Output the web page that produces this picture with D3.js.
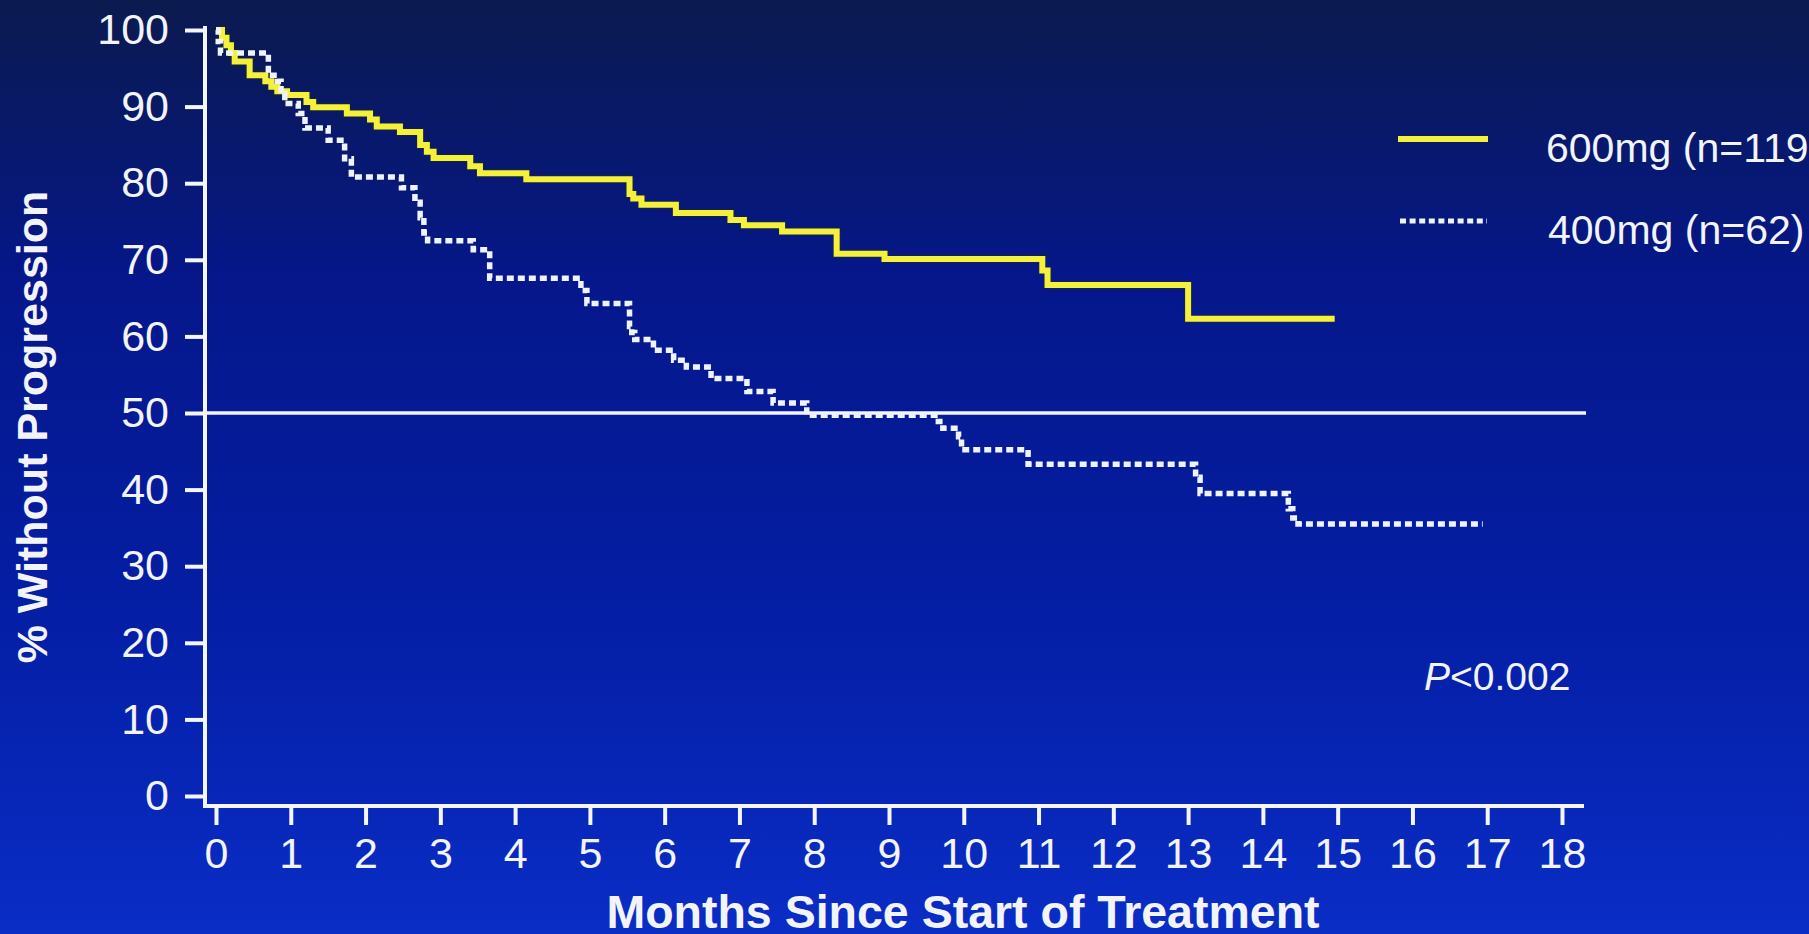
<!DOCTYPE html>
<html>
<head>
<meta charset="utf-8">
<script src="https://cdn.jsdelivr.net/npm/d3@7"></script>
<style>
  html, body { margin: 0; padding: 0; overflow: hidden; background: #061c8c; }
  svg { display: block; }
  text { font-family: "Liberation Sans", Arial, Helvetica, sans-serif; fill: #f2f4fa; }
</style>
</head>
<body>
<svg id="chart" width="1809" height="934"></svg>
<script>
// ---------------- DATA ----------------
const monthTicks = d3.range(0, 19);          // 0 .. 18
const pctTicks = d3.range(0, 101, 10);       // 0 .. 100

// 600 mg arm (Kaplan-Meier steps: time in months, % without progression)
const time600 = [0, 0.08, 0.14, 0.20, 0.25, 0.45, 0.66, 0.74, 0.82, 0.95,
                 1.21, 1.30, 1.75, 2.06, 2.15, 2.46, 2.73, 2.82, 2.91, 3.40,
                 3.53, 4.15, 5.53, 5.58, 5.69, 6.15, 6.88, 7.06, 7.57, 8.30,
                 8.94, 11.05, 11.12, 13.00, 14.96];
const surv600 = [100, 99, 98, 97, 95.9, 94.1, 93.3, 92.6, 92.0, 91.5,
                 90.6, 89.9, 89.1, 88.3, 87.4, 86.7, 85.0, 84.1, 83.3, 82.2,
                 81.3, 80.5, 78.6, 78.0, 77.2, 76.1, 75.2, 74.5, 73.7, 70.8,
                 70.1, 68.6, 66.7, 62.3, 62.3];

// 400 mg arm
const time400 = [0, 0.03, 0.06, 0.70, 0.82, 0.87, 0.92, 1.10, 1.19, 1.50,
                 1.72, 1.81, 2.48, 2.66, 2.73, 2.78, 2.83, 3.44, 3.66, 4.88,
                 4.96, 5.53, 5.56, 5.60, 5.85, 6.12, 6.29, 6.62, 7.10, 7.45,
                 7.90, 9.66, 9.72, 9.93, 9.97, 10.86, 13.10, 13.16, 14.34, 14.40,
                 14.47, 16.94];
const surv400 = [100, 98.5, 97.0, 94.1, 93.3, 91.7, 90.4, 89.1, 87.2, 85.6,
                 83.2, 80.8, 79.4, 77.5, 75.5, 73.5, 72.5, 71.3, 67.6, 66.0,
                 64.3, 61.3, 60.5, 59.6, 58.2, 56.9, 56.0, 54.5, 52.8, 51.3,
                 49.7, 48.9, 48.0, 46.9, 45.2, 43.3, 41.6, 39.5, 37.5, 36.3,
                 35.5, 35.5];

const seriesNames = ["600mg (n=119", "400mg (n=62)"];
const referenceLevel = 50;
const pText = "<0.002";
const xTitle = "Months Since Start of Treatment";
const yTitle = "% Without Progression";

// ---------------- CHART ----------------
const W = 1809, H = 934;
const svg = d3.select("#chart");

// background gradient
const defs = svg.append("defs");
const grad = defs.append("linearGradient").attr("id", "bg")
  .attr("x1", 0).attr("y1", 0).attr("x2", 0).attr("y2", 1);
[["0%", "#0b1a4e"], ["30%", "#05178a"], ["65%", "#041ea4"], ["100%", "#0a2dc6"]]
  .forEach(([o, c]) => grad.append("stop").attr("offset", o).attr("stop-color", c));
svg.append("rect").attr("width", W).attr("height", H).attr("fill", "url(#bg)");

const x = d3.scaleLinear().domain([0, 18]).range([216, 1562]);
const y = d3.scaleLinear().domain([0, 100]).range([796, 30]);

const axisColor = "#f4f6fb";
const yAxisX = 205, xAxisY = 806;

// Y axis
const gy = svg.append("g").attr("transform", `translate(${yAxisX},0)`)
  .call(d3.axisLeft(y).tickValues(pctTicks).tickSize(20).tickPadding(16));
gy.select(".domain").remove();
gy.selectAll(".tick line").attr("stroke", axisColor).attr("stroke-width", 4);
gy.selectAll(".tick text").attr("fill", axisColor)
  .style("font-family", '"Liberation Sans", Arial, sans-serif')
  .style("font-size", "43px");

// X axis
const gx = svg.append("g").attr("transform", `translate(0,${xAxisY})`)
  .call(d3.axisBottom(x).tickValues(monthTicks).tickSize(19).tickPadding(12));
gx.select(".domain").remove();
gx.selectAll(".tick line").attr("stroke", axisColor).attr("stroke-width", 4);
gx.selectAll(".tick text").attr("fill", axisColor)
  .style("font-family", '"Liberation Sans", Arial, sans-serif')
  .style("font-size", "43px");

// axis lines
svg.append("line").attr("x1", yAxisX).attr("x2", yAxisX)
  .attr("y1", y(100) - 4).attr("y2", xAxisY + 2)
  .attr("stroke", axisColor).attr("stroke-width", 4);
svg.append("line").attr("x1", yAxisX - 2).attr("x2", 1584)
  .attr("y1", xAxisY).attr("y2", xAxisY)
  .attr("stroke", axisColor).attr("stroke-width", 4);

// 50% reference line
svg.append("line").attr("x1", yAxisX).attr("x2", 1586)
  .attr("y1", y(referenceLevel)).attr("y2", y(referenceLevel))
  .attr("stroke", axisColor).attr("stroke-width", 3.5);

// KM curves
const line = d3.line().x(d => x(d[0])).y(d => y(d[1])).curve(d3.curveStepAfter);
const pts600 = time600.map((t, i) => [t, surv600[i]]);
const pts400 = time400.map((t, i) => [t, surv400[i]]);

svg.append("path").datum(pts600).attr("d", line)
  .attr("fill", "none").attr("stroke", "#2a2a10").attr("stroke-opacity", 0.35)
  .attr("stroke-width", 8.5).attr("stroke-linejoin", "miter");
svg.append("path").datum(pts600).attr("d", line)
  .attr("fill", "none").attr("stroke", "#f4f13c")
  .attr("stroke-width", 6).attr("stroke-linejoin", "miter");

svg.append("path").datum(pts400).attr("d", line)
  .attr("fill", "none").attr("stroke", "#eef3ff")
  .attr("stroke-width", 5.5).attr("stroke-dasharray", "7,4");

// Legend
svg.append("line").attr("x1", 1398).attr("x2", 1488).attr("y1", 139).attr("y2", 139)
  .attr("stroke", "#f4f13c").attr("stroke-width", 6);
svg.append("line").attr("x1", 1400).attr("x2", 1487).attr("y1", 221).attr("y2", 221)
  .attr("stroke", "#eef3ff").attr("stroke-width", 5).attr("stroke-dasharray", "6,3.6");
svg.append("text").attr("x", 1546).attr("y", 162).style("font-size", "41px").text(seriesNames[0]);
svg.append("text").attr("x", 1548).attr("y", 244).style("font-size", "41px").text(seriesNames[1]);

// P value
const pt = svg.append("text").attr("x", 1424).attr("y", 690).style("font-size", "39px");
pt.append("tspan").style("font-style", "italic").text("P");
pt.append("tspan").text(pText);

// Axis titles
svg.append("text").attr("x", 963).attr("y", 928).attr("text-anchor", "middle")
  .style("font-size", "46.5px").style("font-weight", "bold").text(xTitle);
svg.append("text").attr("transform", "translate(47,427) rotate(-90)")
  .attr("text-anchor", "middle")
  .style("font-size", "43px").style("font-weight", "bold").text(yTitle);
</script>
</body>
</html>
